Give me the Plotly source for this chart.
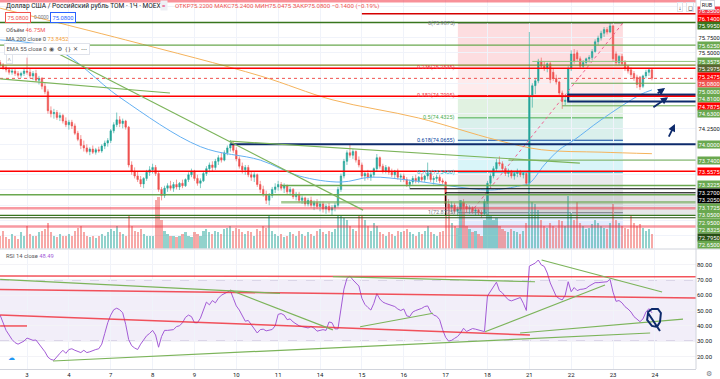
import plotly.graph_objects as go

# ======================= DATA =======================
day_labels = ["3", "4", "7", "8", "9", "10", "11", "14", "15", "16", "17", "18", "21", "22", "23", "24"]
day_first_bar = [9, 23, 37, 51, 65, 79, 93, 107, 121, 135, 149, 163, 177, 191, 205, 219]

open_ = [
    75.34, 75.30, 75.26, 75.22, 75.18, 75.20, 75.16, 75.13, 75.16,
    75.20, 75.18, 75.12, 75.16, 75.05, 75.08, 74.95, 74.86, 74.55, 74.50, 74.52, 74.44, 74.47, 74.38,
    74.32, 74.36, 74.30, 74.18, 74.08, 73.98, 73.94, 73.88, 73.92, 73.87, 73.91, 73.89, 73.97, 74.02,
    74.06, 74.22, 74.32, 74.40, 74.34, 74.38, 74.28, 73.66, 73.55, 73.48, 73.42, 73.35, 73.44, 73.54,
    73.58, 73.62, 73.52, 73.26, 73.16, 73.28, 73.32, 73.28, 73.34, 73.30, 73.36, 73.32, 73.42, 73.50,
    73.55, 73.44, 73.36, 73.40, 73.52, 73.60, 73.66, 73.62, 73.72, 73.78, 73.74, 73.86, 73.94, 74.00,
    73.90, 73.76, 73.64, 73.58, 73.62, 73.50, 73.46, 73.50, 73.34, 73.26, 73.18, 73.08, 73.16, 73.26,
    73.30, 73.34, 73.28, 73.32, 73.22, 73.26, 73.14, 73.18, 73.08, 73.12, 73.02, 73.08, 73.00, 73.04,
    72.98, 73.02, 72.94, 72.98, 72.92, 72.96, 73.00, 73.26, 73.48, 73.72, 73.86, 73.82, 73.88, 73.74,
    73.66, 73.48, 73.52, 73.46, 73.50, 73.60, 73.78, 73.64, 73.56, 73.62, 73.54, 73.50, 73.56, 73.46,
    73.48, 73.42, 73.34, 73.38, 73.44, 73.40, 73.46, 73.42, 73.48, 73.52, 73.42, 73.44, 73.46, 73.40,
    73.38, 73.02, 72.96, 73.00, 72.90, 72.94, 73.04, 72.98, 72.94, 72.96, 72.90, 72.92, 72.88, 72.86,
    73.06, 73.36, 73.48, 73.60, 73.70, 73.68, 73.60, 73.52, 73.56, 73.48, 73.52, 73.54, 73.50, 73.52,
    73.36, 74.80, 74.96, 75.04, 75.36, 75.28, 75.24, 75.32, 75.18, 75.08, 75.02, 74.84, 74.70, 74.72,
    75.24, 75.48, 75.50, 75.40, 75.28, 75.34, 75.40, 75.42, 75.52, 75.68, 75.74, 75.82, 75.88, 75.84,
    75.94, 75.48, 75.34, 75.44, 75.34, 75.28, 75.22, 75.16, 75.10, 75.10, 74.95, 75.12, 75.18, 75.22,
]
high_ = [
    75.38, 75.33, 75.30, 75.26, 75.24, 75.24, 75.20, 75.19, 75.24,
    75.42, 75.24, 75.20, 75.22, 75.12, 75.10, 75.00, 74.90, 74.62, 74.58, 74.56, 74.52, 74.50, 74.44,
    74.40, 74.40, 74.34, 74.22, 74.15, 74.06, 74.00, 73.95, 73.98, 73.94, 73.96, 74.00, 74.06, 74.10,
    74.25, 74.36, 74.52, 74.46, 74.42, 74.40, 74.30, 73.72, 73.62, 73.56, 73.48, 73.46, 73.58, 73.64,
    73.68, 73.66, 73.55, 73.30, 73.32, 73.36, 73.40, 73.38, 73.42, 73.38, 73.42, 73.44, 73.54, 73.60,
    73.58, 73.50, 73.44, 73.56, 73.64, 73.70, 73.72, 73.76, 73.82, 73.86, 73.90, 73.98, 74.07, 74.04,
    73.95, 73.80, 73.70, 73.66, 73.66, 73.56, 73.54, 73.52, 73.40, 73.32, 73.24, 73.20, 73.30, 73.36,
    73.40, 73.38, 73.36, 73.34, 73.30, 73.28, 73.22, 73.22, 73.16, 73.14, 73.12, 73.14, 73.08, 73.10,
    73.06, 73.06, 73.02, 73.04, 73.00, 73.04, 73.30, 73.52, 73.76, 73.90, 74.00, 73.92, 73.90, 73.80,
    73.70, 73.56, 73.58, 73.54, 73.62, 73.84, 73.80, 73.68, 73.66, 73.64, 73.60, 73.58, 73.60, 73.52,
    73.52, 73.46, 73.42, 73.48, 73.50, 73.48, 73.52, 73.50, 73.70, 73.56, 73.48, 73.50, 73.50, 73.44,
    73.40, 73.10, 73.06, 73.04, 72.98, 73.08, 73.10, 73.02, 73.00, 72.98, 72.96, 72.94, 72.92, 73.10,
    73.40, 73.52, 73.64, 73.76, 73.80, 73.72, 73.64, 73.60, 73.58, 73.56, 73.60, 73.58, 73.56, 73.54,
    75.84, 75.00, 75.08, 75.40, 75.42, 75.36, 75.34, 75.36, 75.24, 75.14, 75.04, 74.88, 74.80, 75.28,
    75.54, 75.56, 75.54, 75.44, 75.38, 75.42, 75.46, 75.56, 75.72, 75.78, 75.86, 75.92, 75.92, 75.995,
    75.96, 75.52, 75.46, 75.48, 75.38, 75.30, 75.26, 75.20, 75.14, 75.12, 75.14, 75.22, 75.24, 75.24,
]
low_ = [
    75.27, 75.22, 75.18, 75.14, 75.14, 75.12, 75.09, 75.09, 75.12,
    75.14, 75.08, 75.05, 75.02, 74.98, 74.90, 74.82, 74.50, 74.44, 74.42, 74.40, 74.38, 74.34, 74.28,
    74.24, 74.25, 74.15, 74.05, 73.92, 73.88, 73.85, 73.82, 73.84, 73.83, 73.86, 73.86, 73.92, 73.96,
    74.02, 74.18, 74.28, 74.28, 74.26, 74.24, 73.62, 73.50, 73.44, 73.38, 73.30, 73.28, 73.40, 73.48,
    73.52, 73.48, 73.22, 73.08, 73.12, 73.22, 73.24, 73.22, 73.26, 73.25, 73.28, 73.30, 73.38, 73.46,
    73.40, 73.32, 73.28, 73.38, 73.48, 73.54, 73.56, 73.58, 73.66, 73.70, 73.72, 73.82, 73.88, 73.86,
    73.72, 73.60, 73.52, 73.50, 73.46, 73.40, 73.38, 73.30, 73.20, 73.14, 73.02, 73.00, 73.12, 73.20,
    73.24, 73.24, 73.20, 73.18, 73.16, 73.10, 73.08, 73.04, 73.02, 72.98, 72.98, 72.96, 72.92, 72.94,
    72.90, 72.88, 72.86, 72.88, 72.84, 72.90, 72.96, 73.22, 73.44, 73.66, 73.78, 73.76, 73.70, 73.62,
    73.44, 73.40, 73.42, 73.40, 73.46, 73.56, 73.60, 73.52, 73.52, 73.50, 73.46, 73.44, 73.42, 73.38,
    73.38, 73.30, 73.28, 73.34, 73.36, 73.36, 73.38, 73.38, 73.42, 73.38, 73.34, 73.38, 73.36, 73.34,
    72.98, 72.92, 72.88, 72.86, 72.82, 72.90, 72.94, 72.88, 72.86, 72.86, 72.84, 72.84, 72.80, 72.84,
    73.02, 73.30, 73.44, 73.56, 73.64, 73.56, 73.48, 73.46, 73.44, 73.42, 73.46, 73.46, 73.44, 73.32,
    73.34, 74.60, 74.82, 75.00, 75.24, 75.20, 75.18, 75.00, 75.04, 74.98, 74.80, 74.58, 74.64, 74.70,
    75.20, 75.32, 75.36, 75.24, 75.24, 75.30, 75.34, 75.38, 75.50, 75.62, 75.70, 75.76, 75.80, 75.82,
    75.36, 75.30, 75.30, 75.30, 75.20, 75.16, 75.10, 75.04, 74.92, 74.89, 74.92, 75.08, 75.12, 75.0475,
]
close_ = [
    75.30, 75.26, 75.22, 75.18, 75.20, 75.16, 75.13, 75.16, 75.20,
    75.18, 75.12, 75.16, 75.05, 75.08, 74.95, 74.86, 74.55, 74.50, 74.52, 74.44, 74.47, 74.38, 74.32,
    74.36, 74.30, 74.18, 74.08, 73.98, 73.94, 73.88, 73.92, 73.87, 73.91, 73.89, 73.97, 74.02, 74.06,
    74.22, 74.32, 74.40, 74.34, 74.38, 74.28, 73.66, 73.55, 73.48, 73.42, 73.35, 73.44, 73.54, 73.58,
    73.62, 73.52, 73.26, 73.16, 73.28, 73.32, 73.28, 73.34, 73.30, 73.36, 73.32, 73.42, 73.50, 73.55,
    73.44, 73.36, 73.40, 73.52, 73.60, 73.66, 73.62, 73.72, 73.78, 73.74, 73.86, 73.94, 74.00, 73.90,
    73.76, 73.64, 73.58, 73.62, 73.50, 73.46, 73.50, 73.34, 73.26, 73.18, 73.08, 73.16, 73.26, 73.30,
    73.34, 73.28, 73.32, 73.22, 73.26, 73.14, 73.18, 73.08, 73.12, 73.02, 73.08, 73.00, 73.04, 72.98,
    73.02, 72.94, 72.98, 72.92, 72.96, 73.00, 73.26, 73.48, 73.72, 73.86, 73.82, 73.88, 73.74, 73.66,
    73.48, 73.52, 73.46, 73.50, 73.60, 73.78, 73.64, 73.56, 73.62, 73.54, 73.50, 73.56, 73.46, 73.48,
    73.42, 73.34, 73.38, 73.44, 73.40, 73.46, 73.42, 73.48, 73.52, 73.42, 73.44, 73.46, 73.40, 73.38,
    73.02, 72.96, 73.00, 72.90, 72.94, 73.04, 72.98, 72.94, 72.96, 72.90, 72.92, 72.88, 72.86, 73.06,
    73.36, 73.48, 73.60, 73.70, 73.68, 73.60, 73.52, 73.56, 73.48, 73.52, 73.54, 73.50, 73.52, 73.36,
    74.80, 74.96, 75.04, 75.36, 75.28, 75.24, 75.32, 75.06, 75.08, 75.02, 74.84, 74.70, 74.72, 75.24,
    75.48, 75.36, 75.40, 75.28, 75.34, 75.40, 75.42, 75.52, 75.68, 75.74, 75.82, 75.88, 75.84, 75.94,
    75.40, 75.34, 75.44, 75.32, 75.24, 75.20, 75.14, 75.08, 74.98, 74.94, 75.12, 75.18, 75.22, 75.08,
]
volume_m = [
    40, 55, 35, 30, 45, 38, 30, 50, 40,
    70, 45, 38, 40, 50, 55, 60, 80, 50, 40, 35, 45, 38, 40,
    45, 40, 55, 65, 70, 50, 40, 35, 38, 32, 40, 45, 38, 50,
    60, 55, 70, 50, 45, 40, 100, 70, 55, 50, 60, 45, 40, 38,
    40, 150, 160, 90, 55, 45, 40, 38, 35, 40, 45, 50, 40, 35,
    50, 45, 40, 55, 60, 50, 45, 55, 50, 45, 60, 65, 70, 55,
    65, 60, 50, 45, 55, 50, 40, 60, 55, 70, 65, 100, 55, 45,
    40, 45, 35, 40, 50, 45, 40, 55, 45, 40, 50, 45, 40, 55,
    60, 50, 45, 55, 50, 60, 100, 100, 95, 90, 70, 60, 55, 100,
    100, 90, 70, 55, 80, 70, 50, 45, 40, 50, 45, 40, 55, 50,
    55, 60, 50, 45, 40, 50, 45, 55, 70, 50, 45, 40, 50, 55,
    155, 140, 80, 70, 65, 150, 145, 70, 60, 50, 55, 45, 40, 90,
    185, 100, 90, 95, 70, 60, 55, 50, 60, 55, 50, 45, 55, 80,
    200, 145, 140, 120, 90, 70, 65, 80, 70, 65, 90, 85, 70, 165,
    110, 90, 145, 80, 70, 60, 65, 75, 90, 80, 70, 65, 60, 80,
    140, 90, 80, 70, 65, 60, 100, 80, 70, 75, 65, 55, 60, 46.75,
]
rsi14 = [
    47, 42, 37, 34, 31, 29, 28, 29, 30,
    32, 31, 30.5, 30.7, 28, 26, 23, 19.5, 18, 17.5, 20, 22, 24, 22,
    24.5, 25, 24, 23, 22.5, 24, 22.5, 23, 24, 24.5, 25, 28, 35, 42,
    47, 50.5, 51.5, 50.5, 48.5, 41, 31, 27, 25.5, 24.5, 28, 31, 33.5, 35,
    37, 34, 26, 33, 37, 37, 37.3, 37.5, 39.5, 40, 42, 45.5, 47, 46,
    42, 42, 45, 50, 55.5, 53.7, 56.5, 55, 58, 60, 61, 62.5, 63, 58,
    53, 50.3, 46.5, 43, 43.5, 41, 38, 35.3, 37.5, 37.8, 36.7, 37, 37.6, 40,
    47.5, 48, 47, 44, 44.5, 42.5, 41, 40, 39.5, 38.8, 38.6, 39.5, 38.5, 36.5,
    37, 37.5, 37, 42.5, 42, 38, 38, 50, 64, 71, 72.5, 70, 68, 66,
    58, 54, 52, 50.3, 54.7, 61, 57.5, 55.5, 54.6, 54, 53.3, 52.6, 51, 50,
    51, 46.5, 46, 49, 50, 50.6, 51.4, 52.6, 53, 49, 47, 46.3, 44, 37.5,
    32.5, 30, 30.5, 31.8, 33, 35.3, 38.4, 36.3, 37.4, 38.2, 37.8, 37.3, 37, 36.2,
    59.5, 62.5, 65.6, 68.5, 63, 61.5, 59, 57, 56.3, 56.9, 58, 58.5, 54.7, 50,
    79, 80, 81, 83, 79.8, 78.8, 74.5, 68, 63, 59.2, 57.8, 56.9, 60, 68.8,
    62.3, 65, 63, 63.8, 64, 64.5, 66, 67, 68.2, 68.2, 68.3, 68.5, 68.8, 70.4,
    62, 56, 56.5, 55, 52.5, 51, 49, 46, 44.5, 42.7, 44.5, 49, 51.2, 48.49,
]

ema55_bar = [0, 19, 40, 67, 87, 100, 114, 124, 137, 150, 164, 174, 177, 182, 187, 192, 201, 214, 218]
ema55_val = [75.71, 75.55, 74.77, 73.96, 73.74, 73.48, 73.38, 73.46, 73.41, 73.32, 73.25, 73.32, 73.36,
             73.66, 73.91, 74.07, 74.40, 74.81, 74.89]
ma200_bar = [0, 42, 87, 111, 140, 166, 181, 201, 218]
ma200_val = [76.23, 75.71, 75.12, 74.73, 74.43, 74.07, 73.91, 73.87, 73.8452]

# horizontal levels drawn by the author, their first bar (None = whole width)
level_price = [76.35, 76.14, 75.995, 75.625, 75.3575, 75.2975, 75.2475, 75.08, 75.0, 74.81, 74.7875, 74.63,
               74.0, 73.74, 73.5575, 73.3225, 73.27, 73.205, 73.1725, 73.05, 72.95, 72.8325, 72.795, 72.65]
level_from_bar = [None, 121, None, None, 178, None, None, None, 191, 190, None, 188,
                  77, 170, None, 94, 137, 149, None, 94, None, None, None, None]

price_ticks = [76.25, 76.0, 75.75, 75.5, 75.25, 75.0, 74.75, 74.5, 74.25, 74.0, 73.75, 73.5, 73.25, 73.0, 72.75, 72.5]
rsi_ticks = [20, 30, 40, 50, 60, 70, 80, 90]

fib_levels = [0, 0.236, 0.382, 0.5, 0.618, 0.786, 1, 1.618]
fib_price_0 = 75.9875
fib_price_1 = 72.8775
fib_bar_from = 153.1
fib_bar_to = 208.3

# trend lines (bar0, price0, bar1, price1)
price_trends = [(0, 75.07, 56.8, 74.84), (13.3, 75.64, 121.4, 72.92), (76.9, 74.05, 193.9, 73.69)]
rsi_red_lines = [(-0.1, 72.5, 232.8, 72.0), (-0.1, 63.7, 232.8, 58.2), (0, 47.1, 177.2, 34.0), (0, 39.9, 9, 39.9)]
rsi_green_lines = [(0, 70.4, 93.6, 61.2), (76.9, 63.4, 111.3, 37.3), (17.7, 17.0, 217.4, 35.3),
                   (111.3, 72.2, 178.9, 68.8), (120.4, 39.4, 144.8, 48.2), (162.2, 36.1, 202.3, 66.7),
                   (181.1, 83.0, 221.4, 62.1), (173.9, 35.3, 228.4, 44.4)]
rsi_loop_bar = [216.7, 218.0, 220.0, 221.0, 220.7, 219.7, 218.0, 216.4, 216.7, 220.7]
rsi_loop_val = [49.0, 51.0, 51.0, 48.4, 42.5, 39.3, 39.9, 43.8, 48.4, 36.6]
# hand drawn arrows (tail bar, tail price, head bar, head price)
price_arrows = [(219.4, 74.82, 222.4, 74.92), (218.0, 74.59, 223.4, 74.77), (223.4, 74.10, 225.7, 74.33)]

# ======================= LAYOUT CONSTANTS =======================
W, H = 720, 379
MR, MB = 24, 10
PW, PH = W - MR, H - MB
PRICE_BOT_PX = 248.5
RSI_TOP_PX = 249.5
P_REF, Y_REF, PPU = 75.9875, 23.0, 61.0
P_TOP = P_REF + Y_REF / PPU
P_BOT = P_TOP - PRICE_BOT_PX / PPU
R_Y90, R_PPU = 249.3, 1.53
R_TOP = 90 + (R_Y90 - RSI_TOP_PX) / R_PPU
R_BOT = 90 - (PH - R_Y90) / R_PPU
X0 = (0 - 0.1) / 2.99
X1 = (PW - 0.1) / 2.99
FONT = "Roboto"
UP, DN = "#26a69a", "#ef5350"
GREEN, DKGREEN, RED, NAVY = "#6aa84f", "#38761d", "#ff0000", "#0d2a6b"


def p2y(p):
    return (P_TOP - p) * PPU


def yp(py):
    return 1 - py / PH


def xp(px):
    return px / PW


bars = list(range(len(close_)))
vol_colors = ["rgba(38,166,154,0.5)" if c >= o else "rgba(239,83,80,0.5)" for o, c in zip(open_, close_)]

fig = go.Figure()
fig.add_trace(go.Bar(x=bars, y=volume_m, marker=dict(color=vol_colors, line=dict(width=0)), width=0.72,
                     xaxis="x", yaxis="y3", hoverinfo="skip", showlegend=False))
fig.add_trace(go.Candlestick(x=bars, open=open_, high=high_, low=low_, close=close_, whiskerwidth=0,
                             increasing=dict(line=dict(color=UP, width=0.6), fillcolor=UP),
                             decreasing=dict(line=dict(color=DN, width=0.6), fillcolor=DN),
                             xaxis="x", yaxis="y", showlegend=False))
fig.add_trace(go.Scatter(x=ma200_bar, y=ma200_val, mode="lines", line=dict(color="#f5b35c", width=1, shape="spline"),
                         xaxis="x", yaxis="y", showlegend=False))
fig.add_trace(go.Scatter(x=ema55_bar, y=ema55_val, mode="lines", line=dict(color="#64b0f2", width=1, shape="spline"),
                         xaxis="x", yaxis="y", showlegend=False))
fig.add_trace(go.Scatter(x=bars, y=rsi14, mode="lines", line=dict(color="#a35bd6", width=1),
                         xaxis="x2", yaxis="y2", showlegend=False))

shapes = []
# --- fibonacci retracement fills and levels
fib_fill = {0.236: "rgba(242,54,69,0.17)", 0.382: "rgba(242,54,69,0.10)", 0.5: "rgba(76,175,80,0.17)",
            0.618: "rgba(8,153,129,0.15)", 0.786: "rgba(0,188,212,0.15)", 1: "rgba(120,123,134,0.17)",
            1.618: "rgba(41,98,255,0.13)"}
fib_line = {0: "#787b86", 0.236: "#f23645", 0.382: "#f23645", 0.5: "#4caf50", 0.618: "#0d47a1",
            0.786: "#00bcd4", 1: "#787b86", 1.618: "#2962ff"}
fib_rng = fib_price_0 - fib_price_1
for a, b in zip(fib_levels[:-1], fib_levels[1:]):
    shapes.append(dict(type="rect", xref="x", yref="y", x0=fib_bar_from, x1=fib_bar_to,
                       y0=fib_price_0 - a * fib_rng, y1=fib_price_0 - b * fib_rng,
                       fillcolor=fib_fill[b], line=dict(width=0), layer="below"))
for lv in fib_levels:
    pr = fib_price_0 - lv * fib_rng
    shapes.append(dict(type="line", xref="x", yref="y", x0=fib_bar_from, x1=fib_bar_to, y0=pr, y1=pr,
                       line=dict(color=fib_line[lv], width=1), layer="below"))
shapes.append(dict(type="line", xref="x", yref="y", x0=157.3, x1=fib_bar_to, y0=fib_price_1, y1=fib_price_0,
                   line=dict(color="#f06292", width=1, dash="dot")))

# gray rectangle with black left edge, navy box near the last bars
shapes.append(dict(type="rect", xref="x", yref="y", x0=149, x1=X1 + 1, y0=72.84, y1=73.205,
                   fillcolor="rgba(120,123,134,0.18)", line=dict(width=0)))
shapes.append(dict(type="line", xref="x", yref="y", x0=149, x1=149, y0=72.84, y1=73.205,
                   line=dict(color="#000000", width=1)))
shapes.append(dict(type="rect", xref="x", yref="y", x0=190, x1=X1 + 1, y0=74.70, y1=74.81,
                   fillcolor="rgba(0,0,0,0)", line=dict(color=NAVY, width=2)))

# horizontal levels
level_style = [("rgba(242,54,69,0.55)", 3, "solid"), ("#d50000", 1.5, "solid"), (DKGREEN, 1.5, "solid"),
               (GREEN, 1.2, "solid"), ("#93c47d", 1, "solid"), ("#7f8c2a", 1.2, "solid"), (RED, 1.5, "solid"),
               ("#ef5350", 1, "dot"), (GREEN, 1, "solid"), (NAVY, 2, "solid"), (RED, 1.5, "solid"),
               (GREEN, 1, "solid"), (NAVY, 2, "solid"), (GREEN, 1, "solid"), (RED, 1.5, "solid"),
               (GREEN, 1.5, "solid"), ("#000000", 1.2, "solid"), ("#000000", 1.2, "solid"), (GREEN, 1.5, "solid"),
               ("rgba(106,168,79,0.6)", 2.5, "solid"), ("rgba(242,54,69,0.5)", 2.5, "solid"), (DKGREEN, 1.2, "solid"),
               ("#274e13", 1.2, "solid"), ("rgba(242,54,69,0.5)", 2.5, "solid")]
for p, fb, (col, wd, ds) in zip(level_price, level_from_bar, level_style):
    x0 = X0 if fb is None else fb
    shapes.append(dict(type="line", xref="x", yref="y", x0=x0, x1=X1, y0=p, y1=p,
                       line=dict(color=col, width=wd, dash=ds)))

for b0, p0, b1, p1 in price_trends:
    shapes.append(dict(type="line", xref="x", yref="y", x0=b0, x1=b1, y0=p0, y1=p1,
                       line=dict(color="#7cb45a", width=1.2)))

# RSI band and drawings
shapes.append(dict(type="rect", xref="paper", yref="y2", x0=0, x1=1, y0=30, y1=70,
                   fillcolor="rgba(126,87,194,0.1)", line=dict(width=0), layer="below"))
for v in (70, 30):
    shapes.append(dict(type="line", xref="paper", yref="y2", x0=0, x1=1, y0=v, y1=v,
                       line=dict(color="#b9b0cf", width=1, dash="dash"), layer="below"))
for b0, v0, b1, v1 in rsi_red_lines:
    shapes.append(dict(type="line", xref="x2", yref="y2", x0=b0, x1=b1, y0=v0, y1=v1,
                       line=dict(color="rgba(240,40,50,0.8)", width=1.5)))
for b0, v0, b1, v1 in rsi_green_lines:
    shapes.append(dict(type="line", xref="x2", yref="y2", x0=b0, x1=b1, y0=v0, y1=v1,
                       line=dict(color="#7cb45a", width=1.2)))
loop = "M " + " L ".join(f"{b},{v}" for b, v in zip(rsi_loop_bar, rsi_loop_val))
shapes.append(dict(type="path", xref="x2", yref="y2", path=loop, line=dict(color=NAVY, width=2)))

# frame lines
shapes.append(dict(type="line", xref="paper", yref="paper", x0=0, x1=W / PW, y0=yp(PRICE_BOT_PX + 0.5),
                   y1=yp(PRICE_BOT_PX + 0.5), line=dict(color="#d1d4dc", width=1)))
shapes.append(dict(type="line", xref="paper", yref="paper", x0=1, x1=1, y0=0, y1=1,
                   line=dict(color="#d1d4dc", width=1)))

ann = []
# price arrows (hand drawn)
for b0, p0, b1, p1 in price_arrows:
    ann.append(dict(x=b1, y=p1, ax=b0, ay=p0, xref="x", yref="y", axref="x", ayref="y", text="",
                    showarrow=True, arrowhead=2, arrowsize=0.8, arrowwidth=1.8, arrowcolor=NAVY))

# fib labels
for lv in fib_levels[:-1]:
    pr = fib_price_0 - lv * fib_rng
    ann.append(dict(x=fib_bar_from - 0.3, y=pr, xref="x", yref="y", text=f"{lv:g}({pr:.4f})",
                    showarrow=False, xanchor="right", yanchor="middle",
                    font=dict(family=FONT, size=5.5, color=fib_line[lv])))

# right price scale labels with collision handling
label_bg = ["#f23645", RED, DKGREEN, GREEN, GREEN, "#5b6531", RED, "#ef5350", GREEN, GREEN, RED, GREEN,
            GREEN, GREEN, RED, GREEN, "#000000", "#000000", GREEN, GREEN, GREEN, GREEN, "#274e13", GREEN]
LH = 7.5
items = sorted(zip([p2y(p) for p in level_price], level_price, label_bg))
pos = []
for i, (y, p, bg) in enumerate(items):
    pos.append(max(y, LH / 2 + 7) if i == 0 else max(y, pos[-1] + LH))
for i in reversed(range(len(pos))):
    lim = PRICE_BOT_PX - LH / 2 if i == len(pos) - 1 else pos[i + 1] - LH
    pos[i] = min(pos[i], lim)
for (y, p, bg), py in zip(items, pos):
    ann.append(dict(x=xp(PW + 1), y=yp(py), xref="paper", yref="paper", text=f"{p:.4f}", showarrow=False,
                    xanchor="left", yanchor="middle", borderpad=0.6, bgcolor=bg,
                    font=dict(family=FONT, size=5.8, color="white")))
for t in price_ticks:
    ty = p2y(t)
    if ty < 12 or ty > PRICE_BOT_PX - 4:
        continue
    if all(abs(ty - q) >= LH for q in pos):
        ann.append(dict(x=xp(PW + 1), y=yp(ty), xref="paper", yref="paper", text=f"{t:.4f}", showarrow=False,
                        xanchor="left", yanchor="middle", borderpad=0.6,
                        font=dict(family=FONT, size=5.8, color="#131722")))


def text(s, x, y, size=6.2, color="#131722", **kw):
    d = dict(x=xp(x), y=yp(y), xref="paper", yref="paper", text=s, showarrow=False,
             xanchor="left", yanchor="middle", font=dict(family=FONT, size=size, color=color))
    d.update(kw)
    ann.append(d)


text("Доллар США / Российский рубль TOM · 1Ч · MOEX", 4, 6, size=6.6)
text("≡", 160, 6, size=6, color="#e91e63", bgcolor="#eef0f5", borderpad=1)
text("ОТКР75.2200 МАКС75.2400 МИН75.0475 ЗАКР75.0800 −0.1400 (−0.19%)", 173, 6, size=6.1, color="#ef5350")
text("75.0800", 5, 17.5, size=5.8, color="#ef5350", bordercolor="#ef5350", borderwidth=1, borderpad=1.5,
     bgcolor="white")
text("0.0000", 32, 17.5, size=4.8, color="#787b86")
text("75.0800", 50, 17.5, size=5.8, color="#2962ff", bordercolor="#2962ff", borderwidth=1, borderpad=1.5,
     bgcolor="white")
text("Объём <span style='color:#ef5350'>46.75M</span>", 4, 29.5, size=5.8, color="#555")
text("MA 200 close 0 <span style='color:#f5a33c'>73.8452</span>", 4, 39.3, size=5.8, color="#555")
text("EMA 55 close 0  ◉  ⚙  { }  ✕  ⋯", 4, 49.3, size=5.8, color="#555", bgcolor="white",
     bordercolor="#e0e3eb", borderwidth=1, borderpad=1.5)
text("˄", 6, 59, size=6, color="#555", bgcolor="white", bordercolor="#e0e3eb", borderwidth=1, borderpad=0.5)
text("RSI 14 close <span style='color:#a35bd6'>48.49</span>", 4, 255.5, size=5.8, color="#555")
text("↓", 677, 6.5, size=6, color="#131722", bgcolor="white", bordercolor="#e0e3eb", borderwidth=1, borderpad=0.5)
text("◻", 686, 6.5, size=6, color="#131722", bgcolor="white", bordercolor="#e0e3eb", borderwidth=1, borderpad=0.5)
text("RUB", 700, 5, size=5.5, color="#131722", bgcolor="white", bordercolor="#d1d4dc", borderwidth=1,
     borderpad=0.8)
text("⚙", 704, 374, size=7, color="#787b86")
text("☁", 6, 358, size=7, color="#2196f3")

fig.update_layout(
    width=W, height=H, margin=dict(l=0, r=MR, t=0, b=MB), paper_bgcolor="white", plot_bgcolor="white",
    showlegend=False, bargap=0, font=dict(family=FONT),
    xaxis=dict(domain=[0, 1], range=[X0, X1], anchor="y", showticklabels=False, tickvals=day_first_bar,
               showgrid=True, gridcolor="#f0f3fa", zeroline=False, rangeslider=dict(visible=False), fixedrange=True),
    xaxis2=dict(domain=[0, 1], range=[X0, X1], anchor="y2", tickvals=day_first_bar, ticktext=day_labels,
                tickfont=dict(size=6, color="#131722", family=FONT), ticks="", showgrid=True, gridcolor="#f0f3fa",
                zeroline=False, showline=True, linecolor="#d1d4dc", matches="x"),
    yaxis=dict(domain=[1 - PRICE_BOT_PX / PH, 1], range=[P_BOT, P_TOP], side="right", showticklabels=False,
               tickvals=price_ticks, showgrid=True, gridcolor="#f0f3fa", zeroline=False),
    yaxis2=dict(domain=[0, 1 - RSI_TOP_PX / PH], range=[R_BOT, R_TOP], side="right", tickvals=rsi_ticks,
                ticktext=[f"{v:.2f}" for v in rsi_ticks], tickfont=dict(size=6, color="#131722", family=FONT),
                ticks="", showgrid=True, gridcolor="#f3f3f7", zeroline=False),
    yaxis3=dict(overlaying="y", range=[0, 775], visible=False),
    shapes=shapes, annotations=ann,
)
fig.write_html("out.html", config={"displayModeBar": False},
               post_script="document.body.style.margin='0';document.body.style.overflow='hidden';")
